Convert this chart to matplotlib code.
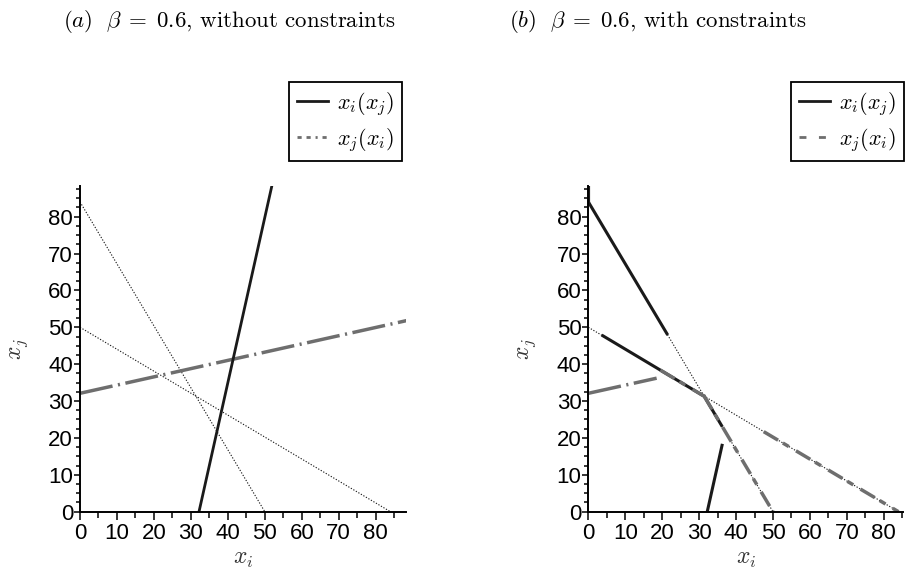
"""
Best-response lines x_i(x_j) and x_j(x_i), beta = 0.6, without / with constraints
"""

import numpy as np
import matplotlib.pyplot as plt
from matplotlib.lines import Line2D
from matplotlib.ticker import MultipleLocator

plt.rcParams['mathtext.fontset'] = 'cm'
plt.rcParams['lines.scale_dashes'] = False
plt.rcParams['font.family'] = ['Liberation Sans', 'DejaVu Sans']

# panel (a): unconstrained best responses and the two constraint lines
a_xi_of_xj_x = [32.2, 51.9]
a_xi_of_xj_y = [0.0, 88.3]
a_xj_of_xi_x = [0.0, 88.3]
a_xj_of_xi_y = [32.1, 51.8]
steep_x = [0.0, 50.0]
steep_y = [84.0, 0.0]
flat_x = [0.0, 84.0]
flat_y = [50.0, 0.0]

# panel (b): constrained best responses, piece by piece
b_black_x = [[0.0, 0.0], [0.0, 21.5], [3.6, 31.2], [31.2, 36.3], [32.2, 36.3]]
b_black_y = [[83.6, 88.3], [84.0, 47.9], [47.9, 31.4], [31.6, 23.0], [0.0, 18.4]]
b_gray_x = [[0.0, 18.5], [19.5, 31.2], [31.2, 50.0], [47.5, 84.0]]
b_gray_y = [[32.1, 36.2], [38.4, 31.4], [31.6, 0.0], [21.7, 0.0]]

ticks = np.arange(0, 90, 10)

black = '#1a1a1a'
gray = '#6e6e6e'
dashdot = (0, (24, 4, 1.5, 4))
dotted = (0, (0.9, 1.2))
dashed = (0, (12, 4, 5, 6))


def style_axes(ax, xmax):
    ax.set_xlim(0, xmax)
    ax.set_ylim(0, 88.3)
    ax.spines['top'].set_visible(False)
    ax.spines['right'].set_visible(False)
    ax.spines['left'].set_linewidth(1.4)
    ax.spines['bottom'].set_linewidth(1.4)
    ax.set_xticks(ticks)
    ax.set_yticks(ticks)
    ax.xaxis.set_minor_locator(MultipleLocator(5))
    ax.yaxis.set_minor_locator(MultipleLocator(2.5))
    ax.tick_params(axis='x', which='major', length=6, width=1.1, labelsize=16, pad=2)
    ax.tick_params(axis='x', which='minor', length=4.5, width=1.1)
    ax.tick_params(axis='y', which='major', length=4, width=1.1, labelsize=16, pad=1)
    ax.tick_params(axis='y', which='minor', length=3, width=1.1)
    ax.set_xlabel('$x_i$', fontsize=17, labelpad=3, color='#333333')
    ax.set_ylabel('$x_j$', fontsize=17, labelpad=13, color='#333333')


fig = plt.figure(figsize=(9.13, 5.72), dpi=100)
ax_a = fig.add_axes([0.0876, 0.1054, 0.3575, 0.5694])
ax_b = fig.add_axes([0.6444, 0.1054, 0.345, 0.5694])

# (a)
ax_a.plot(steep_x, steep_y, color=black, lw=0.8, ls=dotted)
ax_a.plot(flat_x, flat_y, color=black, lw=0.8, ls=dotted)
ax_a.plot(a_xj_of_xi_x, a_xj_of_xi_y, color=gray, lw=2.5, ls=dashdot)
ax_a.plot(a_xi_of_xj_x, a_xi_of_xj_y, color=black, lw=2)
style_axes(ax_a, 88.3)

# (b)
ax_b.plot(steep_x, steep_y, color=black, lw=0.8, ls=dotted)
ax_b.plot(flat_x, flat_y, color=black, lw=0.8, ls=dotted)
for i, (xs, ys) in enumerate(zip(b_black_x, b_black_y)):
    ax_b.plot(xs, ys, color=black, lw=3 if i == 0 else 2.2, solid_capstyle='butt')
for i, (xs, ys) in enumerate(zip(b_gray_x, b_gray_y)):
    ax_b.plot(xs, ys, color=gray, lw=2.5, ls=dashdot if i == 0 else dashed)
style_axes(ax_b, 85.3)

fig.text(0.069, 0.963, r'$(a)\ \ \beta\;=\;0.6$, without constraints',
         family='cmr10', fontsize=16.5, ha='left', va='center')
fig.text(0.557, 0.963, r'$(b)\ \ \beta\;=\;0.6$, with constraints',
         family='cmr10', fontsize=16.5, ha='left', va='center')

labels = ['$x_i(x_j)$', '$x_j(x_i)$']
for ax, right, gls in [(ax_a, 402, (0, (3, 3.5, 3, 3.5, 1.5, 3.5))), (ax_b, 904, (0, (5, 9)))]:
    handles = [Line2D([], [], color=black, lw=2),
               Line2D([], [], color=gray, lw=2, ls=gls)]
    leg = ax.legend(handles, labels, loc='upper right',
                    bbox_to_anchor=(right / 913, 1 - 82 / 572),
                    bbox_transform=fig.transFigure, borderaxespad=0,
                    fontsize=16, handlelength=1.4, handletextpad=0.4,
                    borderpad=0.35, labelspacing=0.35,
                    fancybox=False, framealpha=1, edgecolor='black')
    leg.get_frame().set_linewidth(1.3)

plt.savefig('out.png', dpi=100)
